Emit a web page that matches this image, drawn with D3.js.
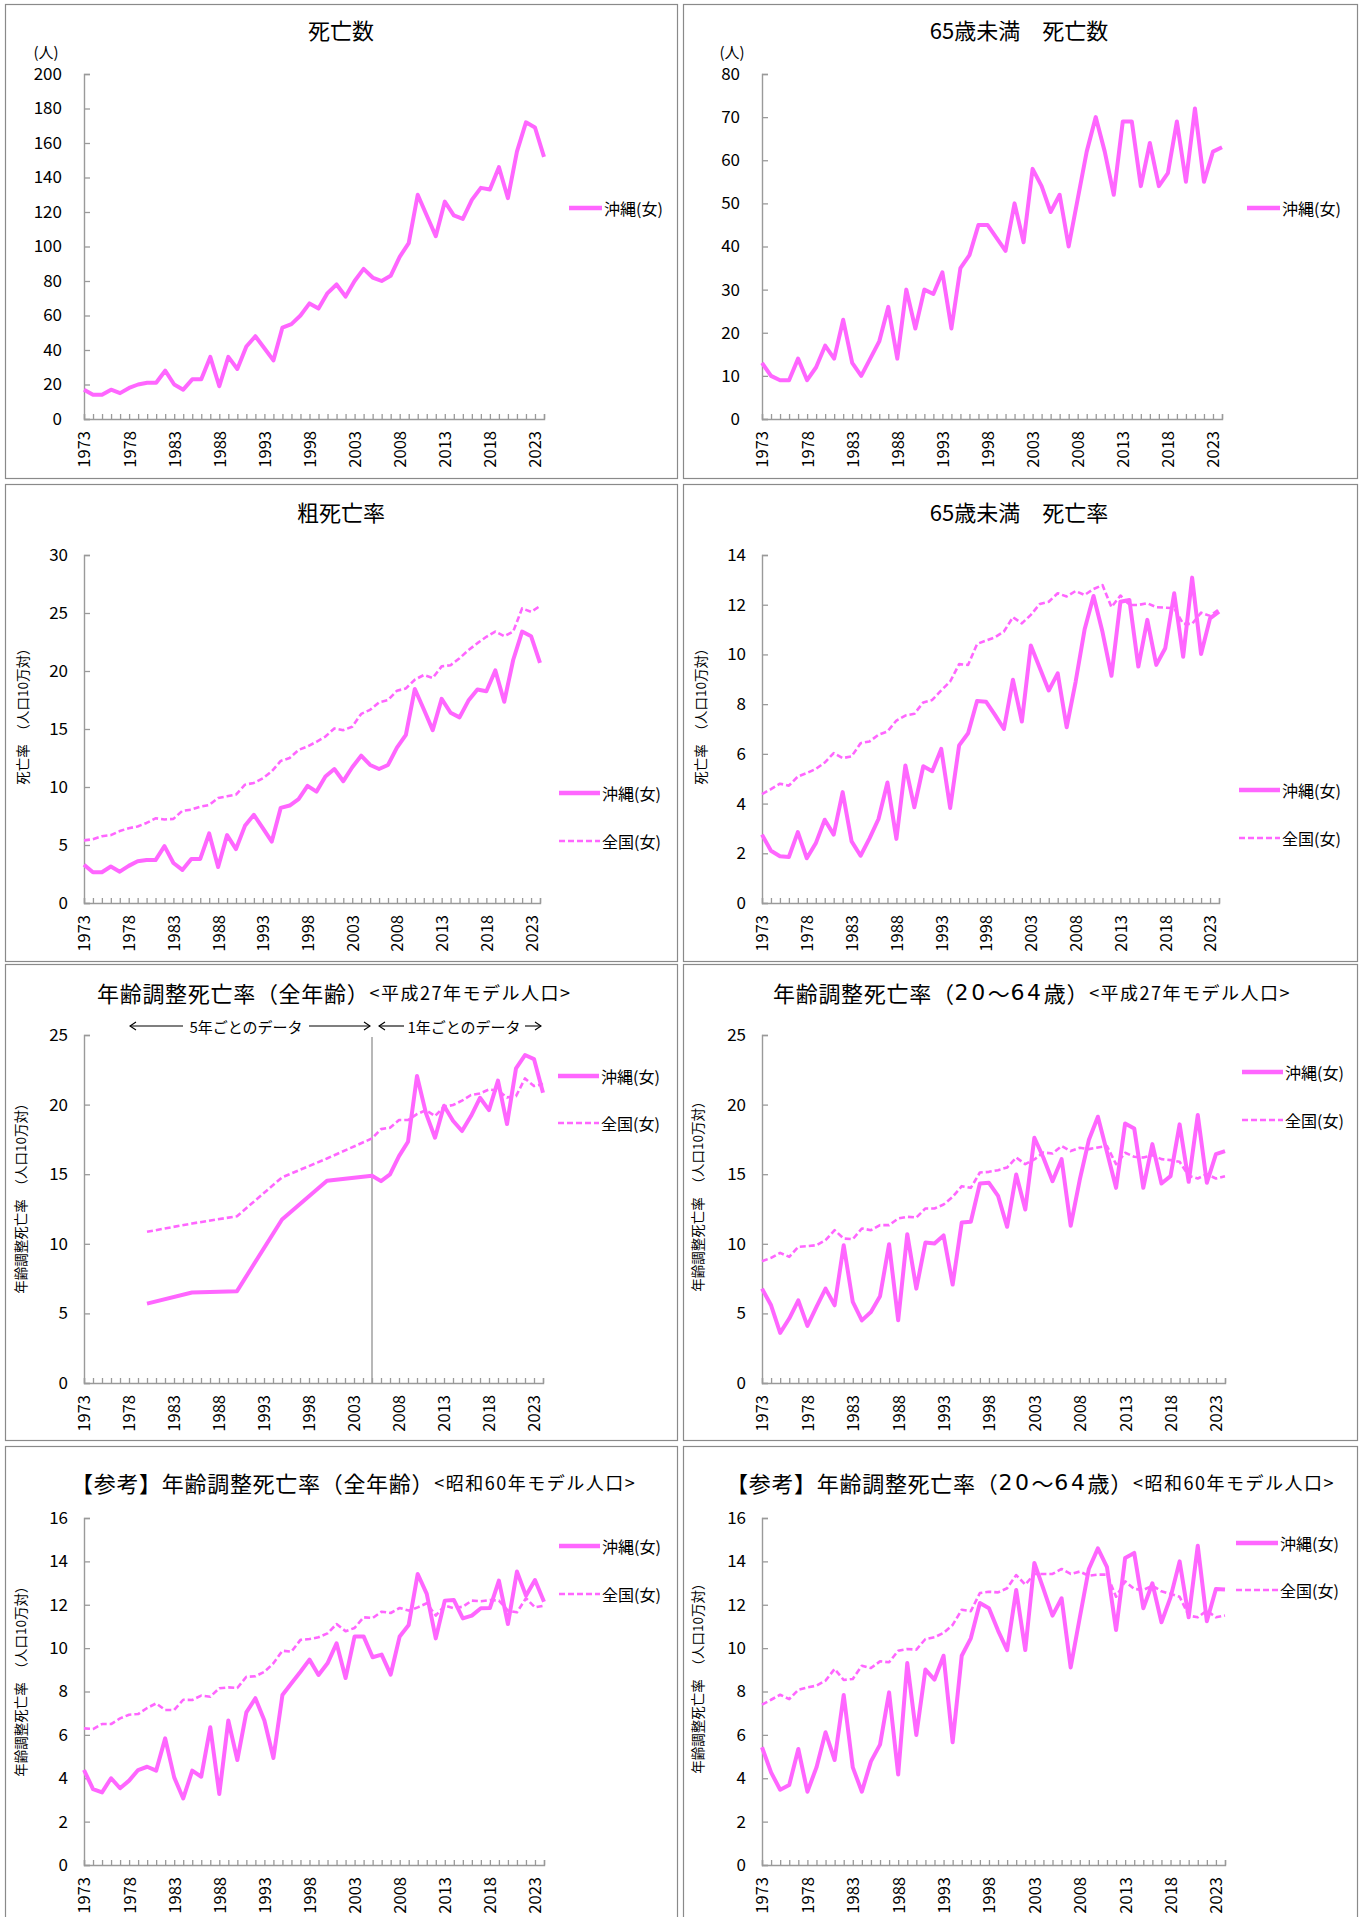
<!DOCTYPE html>
<html><head><meta charset="utf-8">
<script src="https://cdn.jsdelivr.net/npm/d3@7"></script>
<style>
html,body{margin:0;padding:0;background:#fff;}
svg{display:block;}
text{font-family:"Noto Sans CJK JP","Noto Sans",sans-serif;fill:#000;}
</style></head>
<body>
<script>
// ---------- DATA ----------
const years = [1973,1974,1975,1976,1977,1978,1979,1980,1981,1982,1983,1984,1985,1986,1987,1988,1989,1990,1991,1992,1993,1994,1995,1996,1997,1998,1999,2000,2001,2002,2003,2004,2005,2006,2007,2008,2009,2010,2011,2012,2013,2014,2015,2016,2017,2018,2019,2020,2021,2022,2023,2024];
const xTickLabels = [1973,1978,1983,1988,1993,1998,2003,2008,2013,2018,2023];

// 死亡数 沖縄(女)
const deaths = [17,14,14,17,15,18,20,21,21,28,20,17,23,23,36,19,36,29,42,48,41,34,53,55,60,67,64,73,78,71,80,87,82,80,83,94,102,130,118,106,126,118,116,127,134,133,146,128,155,172,169,152];
// 65歳未満 死亡数 沖縄(女)
const deathsU65 = [13,10,9,9,14,9,12,17,14,23,13,10,14,18,26,14,30,21,30,29,34,21,35,38,45,45,42,39,50,41,58,54,48,52,40,51,62,70,62,52,69,69,54,64,54,57,69,55,72,55,62,63];
// 粗死亡率
const crudeOki = [3.3,2.65,2.65,3.15,2.7,3.2,3.6,3.7,3.7,4.9,3.45,2.85,3.8,3.8,6.0,3.1,5.85,4.65,6.65,7.6,6.45,5.3,8.2,8.4,8.95,10.1,9.6,10.9,11.55,10.5,11.7,12.7,11.9,11.55,11.9,13.4,14.5,18.45,16.7,14.9,17.6,16.4,16.0,17.45,18.4,18.25,20.05,17.35,20.95,23.4,23.0,20.7];
const crudeNat = [5.4,5.5,5.75,5.85,6.2,6.45,6.6,6.9,7.3,7.2,7.25,7.95,8.05,8.3,8.45,9.05,9.2,9.35,10.2,10.35,10.75,11.35,12.25,12.5,13.2,13.5,13.9,14.35,15.05,14.9,15.2,16.3,16.65,17.3,17.5,18.3,18.5,19.25,19.65,19.4,20.4,20.5,21.1,21.8,22.4,22.95,23.4,23.0,23.4,25.4,25.1,25.6];
// 65歳未満 死亡率
const u65Oki = [2.75,2.1,1.88,1.85,2.85,1.8,2.4,3.35,2.75,4.46,2.48,1.9,2.6,3.38,4.85,2.58,5.53,3.85,5.5,5.3,6.2,3.82,6.34,6.83,8.13,8.1,7.57,7.0,8.98,7.3,10.36,9.45,8.55,9.24,7.07,8.9,11.0,12.35,10.9,9.14,12.12,12.19,9.51,11.39,9.58,10.25,12.46,9.91,13.09,10.02,11.45,11.72];
const u65Nat = [4.38,4.58,4.8,4.72,5.09,5.23,5.39,5.65,6.03,5.83,5.9,6.43,6.5,6.77,6.9,7.34,7.54,7.61,8.07,8.17,8.55,8.91,9.61,9.58,10.42,10.56,10.69,10.92,11.5,11.25,11.59,12.03,12.12,12.46,12.33,12.55,12.39,12.63,12.79,11.9,12.37,11.99,11.99,12.06,11.9,11.88,11.86,11.23,11.23,11.68,11.55,11.82];
// 年齢調整死亡率（全年齢）平成27年モデル人口
const adjAllYears = [1980,1985,1990,1995,2000,2005,2006,2007,2008,2009,2010,2011,2012,2013,2014,2015,2016,2017,2018,2019,2020,2021,2022,2023,2024];
const adjAllOki = [5.7,6.5,6.6,11.75,14.53,14.89,14.5,14.98,16.3,17.33,22.05,19.37,17.62,19.92,18.84,18.1,19.18,20.49,19.6,21.72,18.6,22.6,23.56,23.27,20.85];
const adjAllNat = [10.86,11.46,11.98,14.77,16.13,17.57,18.24,18.34,18.89,18.89,19.32,19.6,19.18,19.85,19.97,20.28,20.69,20.8,21.09,21.0,20.52,20.61,21.88,21.33,21.48];
// 年齢調整死亡率（20～64歳）平成27年モデル人口
const adj2064Oki = [6.78,5.58,3.6,4.63,5.94,4.1,5.47,6.78,5.58,9.9,5.82,4.5,5.1,6.23,9.97,4.5,10.69,6.78,10.09,10.02,10.6,7.07,11.53,11.58,14.33,14.38,13.45,11.22,14.98,12.46,17.62,16.18,14.5,16.08,11.29,14.6,17.45,19.13,16.6,14.02,18.65,18.29,14.02,17.16,14.33,14.86,18.58,14.45,19.25,14.38,16.44,16.66];
const adj2064Nat = [8.75,8.99,9.35,9.06,9.78,9.83,9.9,10.26,10.98,10.38,10.33,11.1,10.98,11.34,11.34,11.82,11.94,11.89,12.54,12.54,12.82,13.37,14.14,14.02,15.12,15.17,15.29,15.48,16.2,15.72,16.06,16.56,16.49,17.02,16.66,16.9,16.8,16.92,17.02,15.72,16.54,16.25,16.2,16.37,16.08,16.01,15.89,14.89,14.69,15.0,14.69,14.86];
// 【参考】年齢調整死亡率（全年齢）昭和60年モデル人口
const refAllOki = [4.38,3.5,3.35,4.0,3.54,3.89,4.38,4.53,4.35,5.84,4.04,3.07,4.35,4.07,6.35,3.27,6.66,4.84,7.04,7.69,6.66,4.93,7.84,8.38,8.91,9.47,8.76,9.3,10.22,8.62,10.54,10.54,9.58,9.7,8.78,10.54,11.07,13.42,12.5,10.45,12.19,12.22,11.37,11.5,11.84,11.85,13.11,11.11,13.53,12.42,13.14,12.14];
const refAllNat = [6.3,6.27,6.5,6.5,6.76,6.93,6.96,7.24,7.45,7.15,7.15,7.62,7.61,7.81,7.76,8.15,8.19,8.16,8.68,8.7,8.91,9.3,9.88,9.84,10.38,10.42,10.5,10.68,11.11,10.78,10.93,11.42,11.39,11.68,11.62,11.85,11.73,11.88,12.07,11.5,11.96,11.84,11.91,12.19,12.16,12.22,12.19,11.73,11.65,12.3,11.88,11.96];
// 【参考】年齢調整死亡率（20～64歳）昭和60年モデル人口
const ref2064Oki = [5.43,4.27,3.47,3.69,5.35,3.38,4.5,6.12,4.84,7.84,4.5,3.38,4.78,5.55,7.96,4.17,9.31,5.99,9.01,8.55,9.65,5.66,9.65,10.45,12.08,11.84,10.81,9.91,12.68,9.91,13.93,12.73,11.5,12.3,9.11,11.4,13.65,14.6,13.73,10.84,14.16,14.39,11.84,12.99,11.19,12.34,14.0,11.42,14.72,11.24,12.73,12.7];
const ref2064Nat = [7.39,7.62,7.85,7.65,8.08,8.19,8.27,8.5,9.04,8.53,8.58,9.19,9.08,9.39,9.35,9.88,9.96,9.93,10.42,10.5,10.7,11.07,11.77,11.7,12.54,12.6,12.57,12.76,13.37,12.93,13.42,13.42,13.42,13.65,13.42,13.53,13.34,13.39,13.39,12.37,13.08,12.73,12.68,12.88,12.62,12.5,12.37,11.5,11.42,11.73,11.42,11.5];

const yTicks200 = [0,20,40,60,80,100,120,140,160,180,200];
const yTicks80 = [0,10,20,30,40,50,60,70,80];
const yTicks30 = [0,5,10,15,20,25,30];
const yTicks14 = [0,2,4,6,8,10,12,14];
const yTicks25 = [0,5,10,15,20,25];
const yTicks16 = [0,2,4,6,8,10,12,14,16];

const labelOki = "沖縄(女)";
const labelNat = "全国(女)";
const rateAxisTitle = "死亡率　（人口10万対）";
const adjAxisTitle = "年齢調整死亡率　（人口10万対）";

// ---------- DRAW ----------
const W = 1364, H = 1917;
const PINK = "#FF66FF";
const AXIS = "#9a9a9a";
const svg = d3.select("body").append("svg").attr("width", W).attr("height", H);

const panels = [
  {box:[5,4,672,474], plot:[84,544,74,419], yTicks:yTicks200, ymax:200, tickGap:22,
   title:{main:"死亡数", cx:341, cy:29}, unit:{text:"(人)", x:46, y:51},
   series:[{yrs:years, vals:deaths, name:labelOki, dash:false}],
   legend:{x0:569, x1:602, ys:[208]}},
  {box:[683,4,674,474], plot:[762,1222,74,419], yTicks:yTicks80, ymax:80, tickGap:22,
   title:{main:"65歳未満　死亡数", cx:1019, cy:29}, unit:{text:"(人)", x:732, y:51},
   series:[{yrs:years, vals:deathsU65, name:labelOki, dash:false}],
   legend:{x0:1247, x1:1280, ys:[208]}},
  {box:[5,484,672,477], plot:[84,540,555,903], yTicks:yTicks30, ymax:30, tickGap:16,
   title:{main:"粗死亡率", cx:341, cy:511}, ytitle:{text:rateAxisTitle, x:22, y:713},
   series:[{yrs:years, vals:crudeOki, name:labelOki, dash:false},{yrs:years, vals:crudeNat, name:labelNat, dash:true}],
   legend:{x0:559, x1:600, ys:[793,841]}},
  {box:[683,484,674,477], plot:[762,1219,555,903], yTicks:yTicks14, ymax:14, tickGap:16,
   title:{main:"65歳未満　死亡率", cx:1019, cy:511}, ytitle:{text:rateAxisTitle, x:700, y:713},
   series:[{yrs:years, vals:u65Oki, name:labelOki, dash:false},{yrs:years, vals:u65Nat, name:labelNat, dash:true}],
   legend:{x0:1239, x1:1280, ys:[790,838]}},
  {box:[5,964,672,476], plot:[84,543,1035,1383], yTicks:yTicks25, ymax:25, tickGap:16,
   title:{main:"年齢調整死亡率（全年齢）", sub:"<平成27年モデル人口>", x:97, cy:992}, ytitle:{text:adjAxisTitle, x:20, y:1195},
   series:[{yrs:adjAllYears, vals:adjAllOki, name:labelOki, dash:false},{yrs:adjAllYears, vals:adjAllNat, name:labelNat, dash:true}],
   legend:{x0:558, x1:599, ys:[1076,1123]}, divider:2005},
  {box:[683,964,674,476], plot:[762,1225,1035,1383], yTicks:yTicks25, ymax:25, tickGap:16,
   title:{main:"年齢調整死亡率（20～64歳）", sub:"<平成27年モデル人口>", x:773, cy:992}, ytitle:{text:adjAxisTitle, x:697, y:1193},
   series:[{yrs:years, vals:adj2064Oki, name:labelOki, dash:false},{yrs:years, vals:adj2064Nat, name:labelNat, dash:true}],
   legend:{x0:1242, x1:1283, ys:[1072,1120]}},
  {box:[5,1446,672,480], plot:[84,544,1518,1865], yTicks:yTicks16, ymax:16, tickGap:16,
   title:{main:"【参考】年齢調整死亡率（全年齢）", sub:"<昭和60年モデル人口>", x:71, cy:1482}, ytitle:{text:adjAxisTitle, x:20, y:1678},
   series:[{yrs:years, vals:refAllOki, name:labelOki, dash:false},{yrs:years, vals:refAllNat, name:labelNat, dash:true}],
   legend:{x0:559, x1:600, ys:[1546,1594]}},
  {box:[683,1446,674,480], plot:[762,1225,1518,1865], yTicks:yTicks16, ymax:16, tickGap:16,
   title:{main:"【参考】年齢調整死亡率（20～64歳）", sub:"<昭和60年モデル人口>", x:726, cy:1482}, ytitle:{text:adjAxisTitle, x:697, y:1675},
   series:[{yrs:years, vals:ref2064Oki, name:labelOki, dash:false},{yrs:years, vals:ref2064Nat, name:labelNat, dash:true}],
   legend:{x0:1236, x1:1278, ys:[1543,1590]}}
];

function drawTitle(g, t) {
  if (!t.sub) {
    g.append("text").attr("x", t.cx).attr("y", t.cy).attr("text-anchor", "middle")
      .attr("dominant-baseline", "central").attr("font-size", 22).text(t.main);
    return;
  }
  const text = g.append("text").attr("x", t.x).attr("y", t.cy).attr("dominant-baseline", "central")
    .attr("font-size", 22).attr("letter-spacing", 0.7);
  t.main.split(/(\d+)/).forEach(part => {
    if (!part) return;
    const ts = text.append("tspan").text(part);
    if (/^\d+$/.test(part)) ts.attr("font-family", "'DejaVu Sans', sans-serif").attr("letter-spacing", 2.6);
  });
  text.append("tspan").attr("font-size", 18).attr("letter-spacing", 1.5).text(t.sub);
}

function drawPanel(p) {
  const g = svg.append("g");
  const [bx, by, bw, bh] = p.box;
  g.append("rect").attr("x", bx + 0.5).attr("y", by + 0.5).attr("width", bw).attr("height", bh)
    .attr("fill", "#fff").attr("stroke", "#8a8a8a").attr("stroke-width", 1.2);

  const [x0, x1, y0, y1] = p.plot;
  const x = d3.scalePoint().domain(years).range([x0, x1]);
  const y = d3.scaleLinear().domain([0, p.ymax]).range([y1, y0]);

  drawTitle(g, p.title);
  if (p.unit) {
    g.append("text").attr("x", p.unit.x).attr("y", p.unit.y).attr("text-anchor", "middle")
      .attr("dominant-baseline", "central").attr("font-size", 15).text(p.unit.text);
  }
  if (p.ytitle) {
    g.append("text").attr("transform", `translate(${p.ytitle.x},${p.ytitle.y}) rotate(-90)`)
      .attr("text-anchor", "middle").attr("dominant-baseline", "central").attr("font-size", 13.5)
      .text(p.ytitle.text);
  }

  // y axis (inside ticks)
  const yAxis = d3.axisLeft(y).tickValues(p.yTicks).tickSize(-6).tickFormat(d3.format("d"));
  const ya = g.append("g").attr("transform", `translate(${x0},0)`).call(yAxis);
  ya.select(".domain").attr("stroke", AXIS).attr("stroke-width", 1.4);
  ya.selectAll(".tick line").attr("stroke", AXIS).attr("stroke-width", 1.3);
  ya.selectAll(".tick text").attr("font-size", 17).attr("fill", "#000")
    .attr("font-family", "'Noto Sans CJK JP', sans-serif").attr("x", -p.tickGap);

  // x axis: ticks every year (inside), labels every 5
  const xAxis = d3.axisBottom(x).tickValues(years).tickSize(-5).tickFormat(d => xTickLabels.includes(d) ? String(d) : "");
  const xa = g.append("g").attr("transform", `translate(0,${y1})`).call(xAxis);
  xa.select(".domain").attr("stroke", AXIS).attr("stroke-width", 1.4);
  xa.selectAll(".tick line").attr("stroke", AXIS).attr("stroke-width", 1.3);
  xa.selectAll(".tick text").attr("font-size", 16.5).attr("fill", "#000")
    .attr("font-family", "'Noto Sans CJK JP', sans-serif")
    .attr("transform", "rotate(-90)").attr("text-anchor", "end")
    .attr("x", -12).attr("y", 0).attr("dy", "0.36em");

  // divider (5-year vs yearly)
  if (p.divider) {
    g.append("line").attr("x1", x(p.divider)).attr("x2", x(p.divider)).attr("y1", y0 + 2).attr("y2", y1)
      .attr("stroke", "#a0a0a0").attr("stroke-width", 1.5);
    const ay = 1026;
    const arrow = (xa_, xb, head) => {
      g.append("line").attr("x1", xa_).attr("x2", xb).attr("y1", ay).attr("y2", ay).attr("stroke", "#000").attr("stroke-width", 1.1);
      const hx = head === "left" ? xa_ : xb;
      const s = head === "left" ? 1 : -1;
      g.append("path").attr("d", `M${hx + s*6},${ay-4} L${hx},${ay} L${hx + s*6},${ay+4}`)
        .attr("fill", "none").attr("stroke", "#000").attr("stroke-width", 1.1);
    };
    arrow(130, 183, "left");
    g.append("text").attr("x", 246).attr("y", ay).attr("text-anchor", "middle").attr("dominant-baseline", "central")
      .attr("font-size", 15).text("5年ごとのデータ");
    arrow(309, 370, "right");
    arrow(379, 404, "left");
    g.append("text").attr("x", 464).attr("y", ay).attr("text-anchor", "middle").attr("dominant-baseline", "central")
      .attr("font-size", 15).text("1年ごとのデータ");
    arrow(525, 541, "right");
  }

  // series + legend
  p.series.forEach((s, i) => {
    const pts = s.yrs.map((yr, k) => [yr, s.vals[k]]);
    const line = d3.line().x(d => x(d[0])).y(d => y(d[1]));
    g.append("path").datum(pts).attr("d", line).attr("fill", "none").attr("stroke", PINK)
      .attr("stroke-width", s.dash ? 2.6 : 4).attr("stroke-linejoin", "round")
      .attr("stroke-dasharray", s.dash ? "6,3" : null);
    const ly = p.legend.ys[i];
    g.append("line").attr("x1", p.legend.x0).attr("x2", p.legend.x1).attr("y1", ly).attr("y2", ly)
      .attr("stroke", PINK).attr("stroke-width", s.dash ? 2.6 : 4.5).attr("stroke-dasharray", s.dash ? "6,3" : null);
    g.append("text").attr("x", p.legend.x1 + 2).attr("y", ly).attr("dominant-baseline", "central")
      .attr("font-size", 16).text(s.name);
  });
}

panels.forEach(drawPanel);
</script>
</body></html>
